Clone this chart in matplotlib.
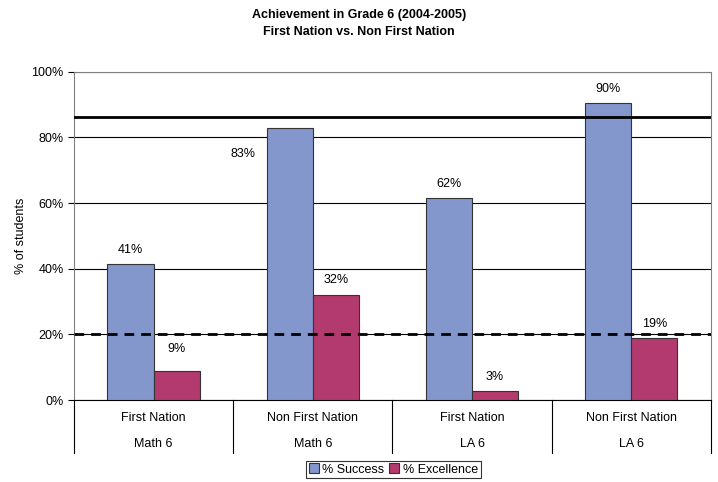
import numpy as np
import matplotlib.pyplot as plt

groups = ["First Nation", "Non First Nation", "First Nation", "Non First Nation"]
subjects = ["Math 6", "Math 6", "LA 6", "LA 6"]
success = [41.5, 82.9, 61.6, 90.4]
excellence = [8.8, 32.1, 2.7, 18.9]
success_lbl = ["41%", "83%", "62%", "90%"]
excellence_lbl = ["9%", "32%", "3%", "19%"]
target_success = 86.3
target_excellence = 20

plt.rcParams['font.family'] = ['Liberation Sans', 'DejaVu Sans']

fig = plt.figure(figsize=(7.18, 4.82), dpi=100)
ax = fig.add_axes([0.1031, 0.170, 0.8869, 0.681])

x = np.arange(len(groups))
w = 0.29
b1 = ax.bar(x - w / 2, success, w, color="#8497cd", edgecolor="#333333", linewidth=0.8,
            label="% Success", zorder=3)
b2 = ax.bar(x + w / 2, excellence, w, color="#b33a6e", edgecolor="#333333", linewidth=0.8,
            label="% Excellence", zorder=3)

for i, r in enumerate(b1):
    if i == 1:
        # this label sits off to the left in the original
        ax.text(r.get_x() - 0.15, r.get_height() - 8, success_lbl[i], ha="center",
                va="center", fontsize=9)
    else:
        ax.text(r.get_x() + r.get_width() / 2, r.get_height() + 2.5, success_lbl[i],
                ha="center", va="bottom", fontsize=9)
for i, r in enumerate(b2):
    if i == 0:
        # sits below the dashed line
        ax.text(r.get_x() + r.get_width() / 2, r.get_height() + 6.7, excellence_lbl[i],
                ha="center", va="center", fontsize=9)
    else:
        ax.text(r.get_x() + r.get_width() / 2, r.get_height() + 2.5, excellence_lbl[i],
                ha="center", va="bottom", fontsize=9)

ax.axhline(target_success, color="black", linewidth=2, zorder=4)
ax.axhline(target_excellence, color="black", linewidth=2, linestyle=(0, (3.5, 2.5)), zorder=4)

ax.set_xlim(-0.5, 3.5)
ax.set_ylim(0, 100)
ax.set_yticks(range(0, 101, 20))
ax.set_yticklabels([f"{v}%" for v in range(0, 101, 20)], fontsize=9)
ax.yaxis.grid(True, color="black", linewidth=0.8, zorder=0)
ax.set_ylabel("% of students", fontsize=9, labelpad=3)
for s in ax.spines.values():
    s.set_color("#808080")
ax.spines["bottom"].set_color("black")
ax.tick_params(axis="y", length=4, color="black")

ax.set_xticks([])
for i in range(len(groups)):
    ax.text(i, -5.5, groups[i], ha="center", va="center", fontsize=9, clip_on=False)
    ax.text(i, -13.5, subjects[i], ha="center", va="center", fontsize=9, clip_on=False)
for b in np.arange(-0.5, 4, 1):
    ax.plot([b, b], [0, -16], color="black", linewidth=0.8, clip_on=False)

fig.text(0.5, 0.968, "Achievement in Grade 6 (2004-2005)", ha="center", va="center",
         fontsize=9, fontweight="bold")
fig.text(0.5, 0.934, "First Nation vs. Non First Nation", ha="center", va="center",
         fontsize=9, fontweight="bold")

leg = fig.legend(handles=[b1, b2], loc="center", bbox_to_anchor=(0.548, 0.026), ncol=2,
                 fontsize=9, frameon=True, fancybox=False, edgecolor="black",
                 handlelength=0.8, handleheight=0.8, handletextpad=0.3,
                 columnspacing=0.4, borderpad=0.2, borderaxespad=0)
leg.get_frame().set_linewidth(0.8)

fig.savefig("out.png", dpi=100)
